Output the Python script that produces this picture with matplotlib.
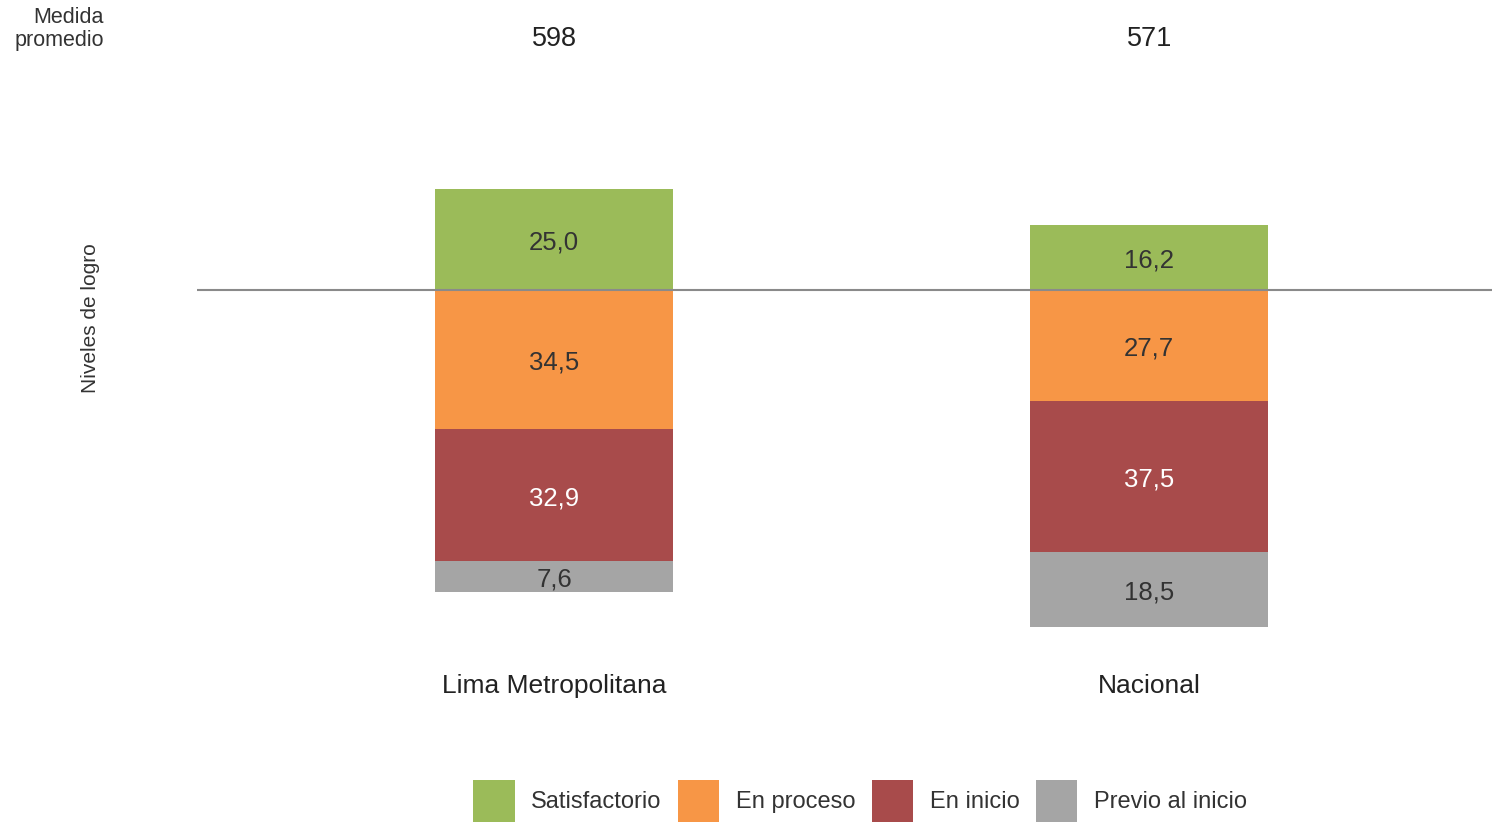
import matplotlib
matplotlib.use('Agg')
import matplotlib.pyplot as plt
from matplotlib.patches import Patch

plt.rcParams['font.family'] = ['Liberation Sans', 'DejaVu Sans']

regions = ['Lima Metropolitana', 'Nacional']
medida = [598, 571]
satisfactorio = [25.0, 16.2]
en_proceso = [34.5, 27.7]
en_inicio = [32.9, 37.5]
previo = [7.6, 18.5]

levels = ['Satisfactorio', 'En proceso', 'En inicio', 'Previo al inicio']
colors = ['#9bbb59', '#f79646', '#a84b4b', '#a5a5a5']
text_colors = ['#333333', '#333333', '#ffffff', '#333333']

W, H = 1492, 822
fig = plt.figure(figsize=(W / 100, H / 100), dpi=100)
ax = fig.add_axes([197 / W, 0, 1 - 197 / W, 1])
ax.set_xlim(-0.6, 1.576)
ax.set_ylim(-132.3, 72.1)
ax.axis('off')

x = [0, 1]
width = 0.4
dy = -0.8  # small nudge so the labels sit centred like the original

# satisfactorio goes up from the baseline, the rest stack downwards
ax.bar(x, satisfactorio, width, bottom=0, color=colors[0])
for i in x:
    ax.text(i, satisfactorio[i] / 2 + dy, f'{satisfactorio[i]:.1f}'.replace('.', ','),
            ha='center', va='center', fontsize=18.5, color=text_colors[0])

bottom = [0.0, 0.0]
for k, vals in enumerate([en_proceso, en_inicio, previo]):
    ax.bar(x, [-v for v in vals], width, bottom=bottom, color=colors[k + 1])
    for i in x:
        ax.text(i, bottom[i] - vals[i] / 2 + dy, f'{vals[i]:.1f}'.replace('.', ','),
                ha='center', va='center', fontsize=18.5, color=text_colors[k + 1])
    bottom = [bottom[i] - vals[i] for i in x]

ax.axhline(0, color='#8a8a8a', lw=1.5)

for i in x:
    ax.text(i, -98.5, regions[i], ha='center', va='center', fontsize=19, color='#222222')
    ax.text(i, 62.4, str(medida[i]), ha='center', va='center', fontsize=19.5, color='#222222')

fig.text(104 / W, 1 - 29 / H, 'Medida\npromedio', ha='right', va='center',
         multialignment='right', fontsize=15.5, color='#333333', linespacing=1.17)
fig.text(90 / W, 1 - 318 / H, 'Niveles de logro', rotation=90, ha='center',
         va='center', fontsize=15, color='#333333')

handles = [Patch(facecolor=c, edgecolor='none') for c in colors]
fig.legend(handles, levels, loc='center', bbox_to_anchor=(860 / W, 1 - 801 / H),
           ncol=4, frameon=False, fontsize=17, handlelength=1.75, handleheight=2.36,
           handletextpad=0.7, columnspacing=0.7, labelcolor='#333333')

fig.savefig('out.png', dpi=100)
